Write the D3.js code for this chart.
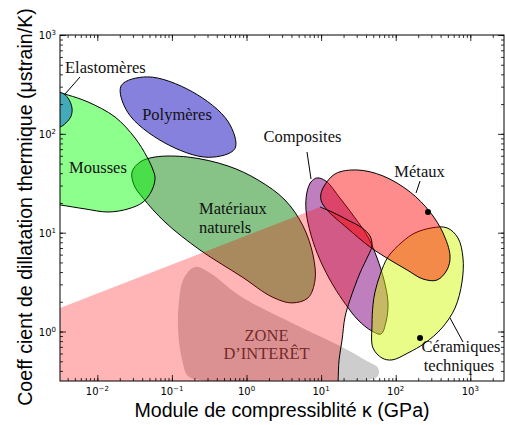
<!DOCTYPE html>
<html><head><meta charset="utf-8">
<script src="https://cdn.jsdelivr.net/npm/d3@7"></script>
<style>body{margin:0;background:#fff} svg{display:block}</style>
</head><body>
<svg id="chart" width="505" height="425"></svg>
<script>
// ---- axis data ----
const xLimits = [0.00316, 2830];
const yLimits = [0.316, 1000];
const xMajorTicks = [0.01, 0.1, 1, 10, 100, 1000];
const xTickExponents = ["\u22122", "\u22121", "0", "1", "2", "3"];
const yMajorTicks = [1, 10, 100, 1000];
const yTickExponents = ["0", "1", "2", "3"];

// ---- material families: outlines as [kappa (GPa), alpha (µstrain/K)] ----
const elastomeres = [[0.00247,265],[0.00337,259],[0.00405,230],[0.00458,182],[0.00444,151],[0.0038,129],[0.00316,117],[0.00247,115],[0.00199,174]];
const mousses = [[0.00199,265],[0.00316,259],[0.00405,247],[0.0075,210],[0.0173,148],[0.032,90.8],[0.0464,58.3],[0.0558,43.1],[0.0594,35.8],[0.0541,27.0],[0.041,20.4],[0.0258,17.4],[0.0139,16.2],[0.00684,17.4],[0.00316,19.1],[0.00199,20.0]];
const polymeres = [[0.699,71.0],[0.308,57.9],[0.0782,81.8],[0.0257,164],[0.0209,307],[0.0474,377],[0.187,267],[0.566,133]];
const naturels = [[0.0292,41.1],[0.0374,51.9],[0.0594,58.3],[0.164,58.3],[0.565,47.3],[1.43,34.1],[3.28,21.4],[5.72,11.7],[7.79,5.95],[8.29,3.32],[6.67,2.19],[4.07,1.95],[2.2,2.24],[0.87,3.57],[0.238,6.68],[0.0808,12.8],[0.041,22.4],[0.031,30.4]];
const composites = [[8.81,35.8],[11.6,33.3],[17.9,22.4],[28.5,14.1],[42.5,9.05],[56.2,5.55],[69.7,3.32],[78.8,1.95],[74.1,1.25],[63.5,0.945],[48.1,1.01],[31.2,1.31],[21.6,1.86],[14.4,2.96],[9.67,5.30],[7.32,9.48],[6.27,17.0],[6.47,25.8],[7.32,32.6]];
const metaux = [[10.3,27.0],[15.4,39.3],[30.3,43.1],[67.6,37.5],[156,25.8],[288,16.2],[431,9.93],[535,5.81],[487,4.20],[358,3.32],[232,3.40],[142,4.20],[83.9,5.30],[45.2,7.17],[22.2,11.2],[12.0,17.0],[9.97,21.4]];
const ceramiques = [[307,11.2],[487,11.2],[684,8.84],[798,5.55],[774,3.17],[624,1.73],[418,1.09],[247,0.766],[146,0.607],[89.2,0.516],[65.5,0.540],[49.6,0.682],[48.1,1.17],[49.6,1.86],[52.8,2.51],[61.6,3.74],[78.8,5.68],[122,8.05],[181,9.93]];
const zoneGrise = [[0.204,4.50],[0.324,3.91],[0.818,2.29],[3.83,1.25],[17.9,0.714],[38.8,0.516],[57.9,0.428],[57.9,0.355],[45.2,0.328],[5.21,0.324],[0.238,0.324],[0.164,0.355],[0.137,0.516],[0.121,1.04],[0.125,2.09],[0.145,3.48]];
const zoneBoundary = [[9.67,18.2],[14.0,16.2],[22.9,13.4],[35.3,11.2],[45.2,9.26],[48.1,7.34],[42.5,5.81],[33.2,3.91],[24.4,2.09],[20.9,1.40],[19.1,0.822],[17.4,0.516],[16.9,0.316],[16.6,0.245]];
const zoneCorners = [[0.00316,0.245],[0.00316,1.73]];
const markedPoints = [[271,16.2],[212,0.861]];

// ---- annotations ----
const labels = [
  {text:"Elastomères", k:0.00369, a:412.6, anchor:"start"},
  {text:"Polymères", k:0.117, a:138.0, anchor:"middle"},
  {text:"Mousses", k:0.0102, a:40.2, anchor:"middle"},
  {text:"Matériaux", k:0.231, a:15.46, anchor:"start"},
  {text:"naturels", k:0.231, a:9.93, anchor:"start"},
  {text:"Composites", k:5.63, a:82.7, anchor:"middle"},
  {text:"Métaux", k:208.5, a:36.6, anchor:"middle"},
  {text:"Céramiques", k:750, a:0.621, anchor:"middle"},
  {text:"techniques", k:706, a:0.399, anchor:"middle"}
];
const zoneLabels = [
  {text:"ZONE", k:1.854, a:0.803},
  {text:"D\u2019INTERÊT", k:1.854, a:0.528}
];
const leaders = [
  [[0.00586,375.8],[0.00369,252.9]],
  [[6.47,65.5],[7.32,34.9]],
  [[211.8,33.3],[187.2,25.2]],
  [[534.6,1.372],[798,0.784]]
];

// ---- drawing ----
const svg = d3.select("#chart");
const L = 60, R = 504, T = 35, B = 381;
const x = d3.scaleLog().domain(xLimits).range([L, R]);
const y = d3.scaleLog().domain(yLimits).range([B, T]);

svg.append("defs").append("clipPath").attr("id","plotclip")
  .append("rect").attr("x",L).attr("y",T).attr("width",R-L).attr("height",B-T);

const g = svg.append("g").attr("clip-path","url(#plotclip)");
const blob = d3.line().x(d=>x(d[0])).y(d=>y(d[1])).curve(d3.curveCatmullRomClosed.alpha(0.5));
const open = d3.line().x(d=>x(d[0])).y(d=>y(d[1])).curve(d3.curveCatmullRom.alpha(0.5));

const shapes = [
  {data: zoneGrise, fill:"#cdcdcd", op:1, stroke:"none"},
  {data: naturels, fill:"#008000", op:0.47, stroke:"#000"},
  {data: polymeres, fill:"#8781de", op:1, stroke:"#000"},
  {data: mousses, fill:"#00ff00", op:0.45, stroke:"#000"},
  {data: elastomeres, fill:"#42aab9", op:1, stroke:"#000"},
  {data: composites, fill:"#800080", op:0.5, stroke:"#000"},
  {data: ceramiques, fill:"rgb(208,249,2)", op:0.47, stroke:"#000"},
  {data: metaux, fill:"#ff0000", op:0.45, stroke:"#000"}
];
shapes.forEach(s => {
  g.append("path").attr("d", blob(s.data))
    .attr("fill", s.fill).attr("fill-opacity", s.op)
    .attr("stroke", s.stroke).attr("stroke-width", 1);
});

// zone d'intérêt
let zd = open(zoneBoundary);
zoneCorners.forEach(c => { zd += `L${x(c[0])},${y(c[1])}`; });
zd += "Z";
g.append("path").attr("d", zd).attr("fill", "#ff0000").attr("fill-opacity", 0.29).attr("stroke","none");
g.append("path").attr("d", open(zoneBoundary)).attr("fill","none").attr("stroke","#000").attr("stroke-width",1);

// points
g.selectAll("circle.pt").data(markedPoints).join("circle")
  .attr("cx", d=>x(d[0])).attr("cy", d=>y(d[1])).attr("r", 3).attr("fill","#000");

// leaders
svg.selectAll("line.leader").data(leaders).join("line")
  .attr("x1", d=>x(d[0][0])).attr("y1", d=>y(d[0][1]))
  .attr("x2", d=>x(d[1][0])).attr("y2", d=>y(d[1][1]))
  .attr("stroke","#000").attr("stroke-width",1);

// labels
svg.selectAll("text.lab").data(labels).join("text")
  .attr("x", d=>x(d.k)).attr("y", d=>y(d.a)).attr("text-anchor", d=>d.anchor)
  .attr("font-family","'Liberation Serif', serif").attr("font-size","16.5px").attr("fill","#111")
  .text(d=>d.text);
svg.selectAll("text.zlab").data(zoneLabels).join("text")
  .attr("x", d=>x(d.k)).attr("y", d=>y(d.a)).attr("text-anchor","middle")
  .attr("font-family","'Liberation Serif', serif").attr("font-size","16.5px").attr("fill","#732a2a")
  .text(d=>d.text);

// axes
function styleAxis(sel){ sel.select(".domain").remove(); sel.selectAll("line").attr("stroke","#000").attr("stroke-width",0.8); }
const fmt = "";
svg.append("g").attr("transform",`translate(0,${B})`).call(d3.axisBottom(x).tickValues(x.ticks()).tickSizeInner(-3).tickSizeOuter(0).tickFormat(()=>fmt)).call(styleAxis);
svg.append("g").attr("transform",`translate(0,${B})`).call(d3.axisBottom(x).tickValues(xMajorTicks).tickSizeInner(-6).tickSizeOuter(0).tickFormat(()=>fmt)).call(styleAxis);
svg.append("g").attr("transform",`translate(0,${T})`).call(d3.axisTop(x).tickValues(x.ticks()).tickSizeInner(-3).tickSizeOuter(0).tickFormat(()=>fmt)).call(styleAxis);
svg.append("g").attr("transform",`translate(0,${T})`).call(d3.axisTop(x).tickValues(xMajorTicks).tickSizeInner(-6).tickSizeOuter(0).tickFormat(()=>fmt)).call(styleAxis);
svg.append("g").attr("transform",`translate(${L},0)`).call(d3.axisLeft(y).tickValues(y.ticks()).tickSizeInner(-3).tickSizeOuter(0).tickFormat(()=>fmt)).call(styleAxis);
svg.append("g").attr("transform",`translate(${L},0)`).call(d3.axisLeft(y).tickValues(yMajorTicks).tickSizeInner(-6).tickSizeOuter(0).tickFormat(()=>fmt)).call(styleAxis);
svg.append("g").attr("transform",`translate(${R},0)`).call(d3.axisRight(y).tickValues(y.ticks()).tickSizeInner(-3).tickSizeOuter(0).tickFormat(()=>fmt)).call(styleAxis);
svg.append("g").attr("transform",`translate(${R},0)`).call(d3.axisRight(y).tickValues(yMajorTicks).tickSizeInner(-6).tickSizeOuter(0).tickFormat(()=>fmt)).call(styleAxis);

svg.append("rect").attr("x",L).attr("y",T).attr("width",R-L).attr("height",B-T)
  .attr("fill","none").attr("stroke","#000").attr("stroke-width",1);

// tick labels
const xl = svg.selectAll("text.xt").data(xMajorTicks).join("text")
  .attr("x", d=>x(d)).attr("y", B+14).attr("text-anchor","middle")
  .attr("font-family","'DejaVu Sans', sans-serif").attr("font-size","10px");
xl.append("tspan").text("10");
xl.append("tspan").attr("font-size","7px").attr("dy",-4).text((d,i)=>xTickExponents[i]);
const yl = svg.selectAll("text.yt").data(yMajorTicks).join("text")
  .attr("x", L-4).attr("y", d=>y(d)+4).attr("text-anchor","end")
  .attr("font-family","'DejaVu Sans', sans-serif").attr("font-size","10px");
yl.append("tspan").text("10");
yl.append("tspan").attr("font-size","7px").attr("dy",-4).text((d,i)=>yTickExponents[i]);

// axis titles
svg.append("text").attr("x", 282).attr("y", 417).attr("text-anchor","middle")
  .attr("font-family","'Liberation Sans', Arial, sans-serif").attr("font-size","19.6px")
  .text("Module de compressiblité \u03ba (GPa)");
svg.append("text").attr("transform","translate(32,207) rotate(-90)").attr("text-anchor","middle")
  .attr("font-family","'Liberation Sans', Arial, sans-serif").attr("font-size","19.6px")
  .text("Coeff cient de dillatation thermique (\u03bcstrain/K)");
</script>
</body></html>
